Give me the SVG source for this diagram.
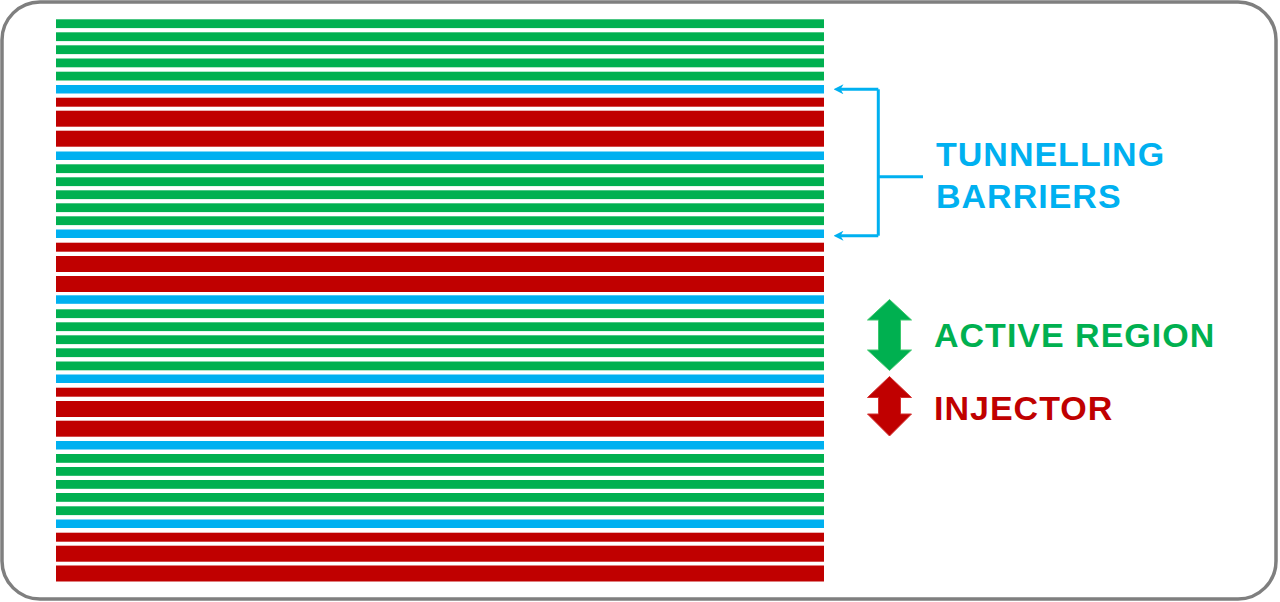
<svg xmlns="http://www.w3.org/2000/svg" width="1280" height="602" viewBox="0 0 1280 602">
  <style>
    .g{fill:#00B050}
    .b{fill:#00B0F0}
    .r{fill:#C00000}
    .lbl{font-family:"Liberation Sans",Arial,sans-serif;font-weight:bold;font-size:34px;letter-spacing:1px}
    .conn{fill:none;stroke:#00B0F0;stroke-width:3}
  </style>
  <defs>
    <marker id="barb" viewBox="0 0 10 10" refX="5" refY="5" markerWidth="10" markerHeight="10" markerUnits="userSpaceOnUse" orient="auto">
      <path d="M0,0 L10,5 L0,10 L3,5 Z" fill="#00B0F0"/>
    </marker>
  </defs>
  <rect id="frame" x="2" y="2" width="1274" height="597" rx="38" ry="38" fill="#FFFFFF" stroke="#7F7F7F" stroke-width="3.5"/>
  <g id="stack">
    <g id="layers-0">
      <rect class="g" x="56" y="19.3" width="768" height="8.8"/>
      <rect class="g" x="56" y="32.3" width="768" height="8.8"/>
      <rect class="g" x="56" y="45.3" width="768" height="8.8"/>
      <rect class="g" x="56" y="58.5" width="768" height="8.8"/>
      <rect class="g" x="56" y="71.7" width="768" height="8.8"/>
      <rect class="b" x="56" y="85" width="768" height="8.5"/>
      <rect class="r" x="56" y="97.7" width="768" height="9"/>
      <rect class="r" x="56" y="110.7" width="768" height="16"/>
      <rect class="r" x="56" y="130.7" width="768" height="16"/>
    </g>
    <g id="layers-1">
      <rect class="b" x="56" y="151.5" width="768" height="8.5"/>
      <rect class="g" x="56" y="164.3" width="768" height="8.8"/>
      <rect class="g" x="56" y="177.3" width="768" height="8.8"/>
      <rect class="g" x="56" y="190.3" width="768" height="8.8"/>
      <rect class="g" x="56" y="203.3" width="768" height="8.8"/>
      <rect class="g" x="56" y="216.3" width="768" height="8.8"/>
      <rect class="b" x="56" y="229.5" width="768" height="8.5"/>
      <rect class="r" x="56" y="242.7" width="768" height="9"/>
      <rect class="r" x="56" y="256" width="768" height="16"/>
      <rect class="r" x="56" y="276" width="768" height="16"/>
    </g>
    <g id="layers-2">
      <rect class="b" x="56" y="295.3" width="768" height="8.5"/>
      <rect class="g" x="56" y="309.3" width="768" height="8.8"/>
      <rect class="g" x="56" y="322.3" width="768" height="8.8"/>
      <rect class="g" x="56" y="335.3" width="768" height="8.8"/>
      <rect class="g" x="56" y="348.3" width="768" height="8.8"/>
      <rect class="g" x="56" y="361.5" width="768" height="8.8"/>
      <rect class="b" x="56" y="374.5" width="768" height="8.5"/>
      <rect class="r" x="56" y="387.7" width="768" height="9"/>
      <rect class="r" x="56" y="401" width="768" height="16"/>
      <rect class="r" x="56" y="420.7" width="768" height="16"/>
    </g>
    <g id="layers-3">
      <rect class="b" x="56" y="441" width="768" height="8.5"/>
      <rect class="g" x="56" y="454" width="768" height="8.8"/>
      <rect class="g" x="56" y="467" width="768" height="8.8"/>
      <rect class="g" x="56" y="480" width="768" height="8.8"/>
      <rect class="g" x="56" y="493" width="768" height="8.8"/>
      <rect class="g" x="56" y="506.3" width="768" height="8.8"/>
      <rect class="b" x="56" y="519.5" width="768" height="8.5"/>
      <rect class="r" x="56" y="532.7" width="768" height="9"/>
      <rect class="r" x="56" y="545.7" width="768" height="16"/>
      <rect class="r" x="56" y="565.5" width="768" height="16"/>
    </g>
  </g>
  <g id="connectors">
    <path class="conn" d="M923,176.7 H878.3"/>
    <path class="conn" d="M878.3,89.3 V235.7"/>
    <path class="conn" d="M878.3,89.3 H838.5" marker-end="url(#barb)"/>
    <path class="conn" d="M878.3,235.7 H838.5" marker-end="url(#barb)"/>
  </g>
  <g id="tunnelling-label">
    <text class="lbl" x="936" y="165.5" fill="#00B0F0">TUNNELLING</text>
    <text class="lbl" x="936" y="207.5" fill="#00B0F0">BARRIERS</text>
  </g>
  <g id="active-region-legend">
    <path class="g" stroke="#3CC86E" stroke-width="1" d="M889.5,299.5 L911.5,320 L900.5,320 L900.5,350 L911.5,350 L889.5,370.5 L867.5,350 L878.5,350 L878.5,320 L867.5,320 Z"/>
    <text class="lbl" x="934" y="347" fill="#00B050">ACTIVE REGION</text>
  </g>
  <g id="injector-legend">
    <path class="r" stroke="#D43030" stroke-width="1" d="M889.5,376.5 L911.5,397.5 L900.5,397.5 L900.5,414 L911.5,414 L889.5,436 L867.5,414 L878.5,414 L878.5,397.5 L867.5,397.5 Z"/>
    <text class="lbl" x="934" y="419.5" fill="#C00000">INJECTOR</text>
  </g>
</svg>
